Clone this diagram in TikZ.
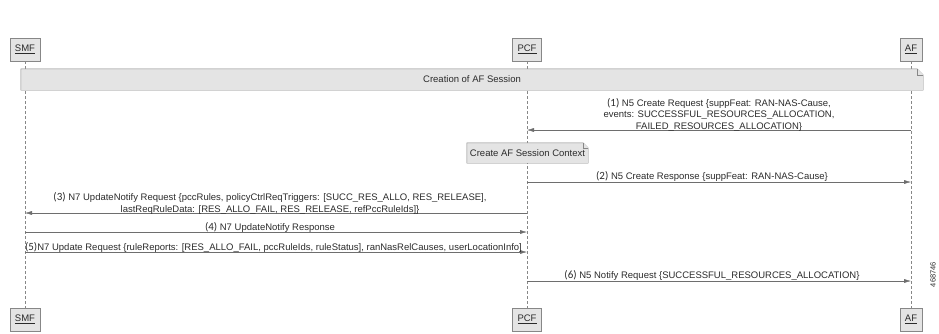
\documentclass[tikz,border=0pt]{standalone}
\usepackage{fontspec}
\setmainfont{Liberation Sans}
\newfontfamily\numfont{Carlito}
\usetikzlibrary{arrows.meta, positioning}
\definecolor{boxfill}{HTML}{E4E4E4}
\definecolor{boxline}{HTML}{878787}
\definecolor{msgline}{HTML}{6E6E6E}
\definecolor{msgtext}{HTML}{2B2B2B}
\newcommand{\msgnum}[1]{{\numfont\fontsize{11}{11}\selectfont(#1)}}
\pgfdeclarelayer{lifelines}
\pgfdeclarelayer{notes}
\pgfsetlayers{lifelines,notes,main}
\tikzstyle{actor} = [draw=boxline, fill=boxfill, minimum height=23pt, inner xsep=5pt,
                     font=\fontsize{9.5}{11}\selectfont, text=msgtext]
\tikzstyle{lifeline} = [draw=boxline, dash pattern=on 3pt off 2pt]
\tikzstyle{msg} = [draw=msgline, -{Latex[length=7pt,width=4pt]}]
\tikzstyle{msglabel} = [font=\fontsize{9.5}{11.5}\selectfont, text=msgtext, align=center, inner sep=0]
\tikzstyle{notetext} = [font=\fontsize{9.5}{11}\selectfont, text=msgtext, inner sep=0]
\tikzstyle{notebox} = [draw=boxline, fill=boxfill]
% note with a folded top right corner, drawn behind its text
\newcommand{\dogear}[2]{%
	\begin{pgfonlayer}{notes}
		\filldraw [notebox] (#1.south west) -- (#1.north west) -- ([xshift=-#2]#1.north east)
			-- ([yshift=-#2]#1.north east) -- (#1.south east) -- cycle;
		\draw [notebox] ([xshift=-#2]#1.north east) -- ([xshift=-#2, yshift=-#2]#1.north east)
			-- ([yshift=-#2]#1.north east);
	\end{pgfonlayer}}

\begin{document}
\begin{tikzpicture}[x=1pt, y=-1pt]
				\useasboundingbox (0, 0) rectangle (939, 333);

				% participants
				\node (SMFTop) [actor] at (25, 49.5) {\underline{SMF}};
				\node (PCFTop) [actor] at (527, 49.5) {\underline{PCF}};
				\node (AFTop) [actor] at (911, 49.5) {\underline{AF}};
				\node (SMFBottom) [actor] at (25, 319.5) {\underline{SMF}};
				\node (PCFBottom) [actor] at (527, 319.5) {\underline{PCF}};
				\node (AFBottom) [actor] at (911, 319.5) {\underline{AF}};

				\begin{pgfonlayer}{lifelines}
					\draw [lifeline] (SMFTop) -- (SMFBottom);
					\draw [lifeline] (PCFTop) -- (PCFBottom);
					\draw [lifeline] (AFTop) -- (AFBottom);
				\end{pgfonlayer}

				% creation of the session
				\node (Creation) [notetext, minimum width=902pt, minimum height=21pt] at (472, 79.5)
					{Creation of AF Session};
				\dogear{Creation}{6pt}

				% (1) create request
				\coordinate (AF1) at (AFTop |- 0,130);
				\coordinate (PCF1) at (PCFTop |- 0,130);
				\draw [msg] (AF1) -- (PCF1);
				\node (Msg1) [msglabel] at (719, 114.5)
					{\msgnum{1} N5 Create Request \{suppFeat: RAN-NAS-Cause,\\
					events: SUCCESSFUL\_RESOURCES\_ALLOCATION,\\
					FAILED\_RESOURCES\_ALLOCATION\}};

				\node (Context) [notetext, minimum width=121pt, minimum height=20pt] at (527.5, 153)
					{Create AF Session Context};
				\dogear{Context}{5pt}

				% (2) create response
				\coordinate (PCF2) at (PCFTop |- 0,182);
				\coordinate (AF2) at (AFTop |- 0,182);
				\draw [msg] (PCF2) -- (AF2);
				\node (Msg2) [msglabel] at (712, 176.5)
					{\msgnum{2} N5 Create Response \{suppFeat: RAN-NAS-Cause\}};

				% (3) update notify request
				\coordinate (PCF3) at (PCFTop |- 0,213);
				\coordinate (SMF3) at (SMFTop |- 0,213);
				\draw [msg] (PCF3) -- (SMF3);
				\node (Msg3) [msglabel] at (270, 203.5)
					{\msgnum{3} N7 UpdateNotify Request \{pccRules, policyCtrlReqTriggers: [SUCC\_RES\_ALLO, RES\_RELEASE],\\
					lastReqRuleData: [RES\_ALLO\_FAIL, RES\_RELEASE, refPccRuleIds]\}};

				% (4) update notify response
				\coordinate (SMF4) at (SMFTop |- 0,232);
				\coordinate (PCF4) at (PCFTop |- 0,232);
				\draw [msg] (SMF4) -- (PCF4);
				\node (Msg4) [msglabel] at (270, 227)
					{\msgnum{4} N7 UpdateNotify Response};

				% (5) update request
				\coordinate (SMF5) at (SMFTop |- 0,252);
				\coordinate (PCF5) at (PCFTop |- 0,252);
				\draw [msg] (SMF5) -- (PCF5);
				\node (Msg5) [msglabel] at (273.5, 247.5)
					{\msgnum{5}N7 Update Request \{ruleReports: [RES\_ALLO\_FAIL, pccRuleIds, ruleStatus], ranNasRelCauses, userLocationInfo]};

				% (6) notify request
				\coordinate (PCF6) at (PCFTop |- 0,281);
				\coordinate (AF6) at (AFTop |- 0,281);
				\draw [msg] (PCF6) -- (AF6);
				\node (Msg6) [msglabel] at (712, 275.5)
					{\msgnum{6} N5 Notify Request \{SUCCESSFUL\_RESOURCES\_ALLOCATION\}};

				\node (FigId) [rotate=90, font=\fontsize{7.5}{8}\selectfont, text=msgtext] at (933, 274.5) {468746};
			\end{tikzpicture}
\end{document}
